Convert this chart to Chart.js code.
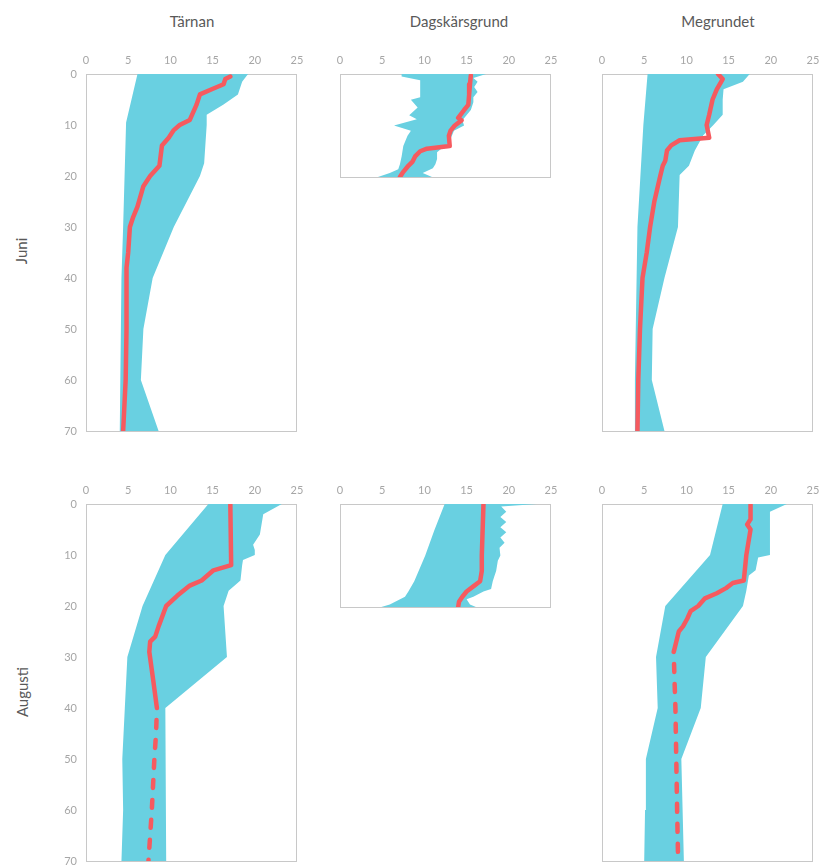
<!DOCTYPE html>
<html lang="sv">
<head>
<meta charset="utf-8">
<title>Temperaturprofiler</title>
<script src="https://cdn.jsdelivr.net/npm/chart.js@4.4.1/dist/chart.umd.min.js"></script>
<style>
  html, body { margin: 0; padding: 0; background: #fff; }
  body { position: relative; width: 822px; height: 865px; overflow: hidden; font-family: Lato, 'Open Sans', sans-serif; }
  canvas { position: absolute; }
  .title { position: absolute; top: 12px; font-size: 15px; color: #595959; transform: translateX(-50%); white-space: nowrap; }
  .rowlab { position: absolute; font-size: 15px; color: #595959; transform: translate(-50%, -50%) rotate(-90deg); white-space: nowrap; }
</style>
</head>
<body>
<div class="title" style="left:192px">Tärnan</div>
<div class="title" style="left:459px">Dagskärsgrund</div>
<div class="title" style="left:718px">Megrundet</div>
<div class="rowlab" style="left:21px; top:251px">Juni</div>
<div class="rowlab" style="left:22px; top:692px">Augusti</div>
<canvas id="c0"></canvas>
<canvas id="c1"></canvas>
<canvas id="c2"></canvas>
<canvas id="c3"></canvas>
<canvas id="c4"></canvas>
<canvas id="c5"></canvas>
<script>
// axis ticks
var tempTicks = [0, 5, 10, 15, 20, 25];
var depthTicks = [0, 10, 20, 30, 40, 50, 60, 70];

// Tärnan, juni
var tarJunMinD = [0, 9.5, 30, 40, 70];
var tarJunMin = [6.1, 4.75, 4.4, 4.2, 4.0];
var tarJunMaxD = [0, 1.5, 4, 6, 8, 10, 17.5, 20, 30, 40, 50, 60, 70];
var tarJunMax = [19.2, 18.5, 18.0, 16.3, 14.3, 14.3, 14.0, 13.5, 10.4, 7.9, 6.8, 6.5, 8.6];
var tarJunMeanD = [0.5, 1, 2, 3, 4, 6, 9, 10, 11, 12.5, 14, 18, 20, 22, 26, 28, 30, 35, 38, 50, 60, 70];
var tarJunMean = [17.1, 16.5, 16.3, 14.9, 13.5, 13.1, 12.3, 11.1, 10.4, 9.8, 9.0, 8.7, 7.6, 6.8, 6.1, 5.6, 5.2, 5.0, 4.8, 4.8, 4.7, 4.4];

// Dagskärsgrund, juni
var dagJunMinD = [0, 0.5, 1.2, 4.5, 5, 6.5, 8, 8.8, 10, 11, 12, 14, 16, 17.5, 18.5, 19.2, 20];
var dagJunMin = [7.3, 7.3, 9.5, 9.5, 8.4, 9.2, 8.2, 9.1, 6.4, 8.4, 8.0, 7.5, 7.3, 7.1, 6.9, 5.9, 4.5];
var dagJunMaxD = [0, 0.8, 1.5, 2.5, 3.5, 4.5, 5.5, 6.5, 7, 9, 10, 11, 13, 14, 14.5, 15.2, 16.5, 17.5, 18.3, 19.2, 20];
var dagJunMax = [17.3, 15.8, 16.3, 15.9, 16.3, 15.8, 15.8, 15.6, 15.5, 14.5, 14.7, 13.5, 13.0, 13.0, 12.0, 11.5, 11.5, 11.3, 11.0, 9.8, 10.9];
var dagJunMeanD = [0.3, 2, 4, 6, 7, 8.5, 9, 10, 11, 12, 14, 14.5, 15, 16, 17, 18, 19, 20];
var dagJunMean = [15.5, 15.4, 15.3, 15.2, 14.7, 14.0, 14.4, 13.6, 13.1, 12.9, 13.0, 10.3, 9.5, 8.9, 8.6, 8.0, 7.5, 7.1];

// Megrundet, juni
var megJunMinD = [0, 10, 30, 40, 50, 60, 70];
var megJunMin = [5.4, 4.9, 4.2, 4.1, 4.0, 3.9, 3.8];
var megJunMaxD = [0, 1.5, 3, 5, 8, 10, 12, 15, 18, 19.8, 30, 40, 50, 60, 70];
var megJunMax = [17.5, 16.7, 14.4, 14.3, 14.3, 13.2, 12.0, 11.0, 10.3, 9.2, 9.0, 7.4, 6.0, 5.9, 7.4];
var megJunMeanD = [0, 1, 3, 5, 8, 10, 12.5, 13, 14, 15, 17, 18, 20, 25, 30, 35, 40, 50, 60, 70];
var megJunMean = [13.75, 14.3, 13.6, 13.1, 12.7, 12.4, 12.7, 9.2, 8.2, 7.7, 7.5, 7.2, 6.9, 6.2, 5.7, 5.3, 4.8, 4.5, 4.3, 4.2];

// Tärnan, augusti
var tarAugMinD = [0, 10, 20, 30, 40, 50, 60, 70];
var tarAugMin = [14.5, 9.4, 6.7, 4.9, 4.6, 4.3, 4.4, 4.2];
var tarAugMaxD = [0, 2, 6, 8, 9, 10, 11, 12, 15, 17, 20, 30, 40, 70];
var tarAugMax = [23.2, 21.0, 20.6, 19.8, 20.0, 20.0, 18.6, 18.5, 18.3, 16.9, 16.3, 16.7, 9.4, 9.5];
var tarAugMeanD = [0, 12, 13, 15, 16, 18, 20, 24, 26, 27, 29, 35, 40, 45, 50, 60, 70];
var tarAugMean = [17.1, 17.2, 15.1, 13.7, 12.3, 10.8, 9.5, 8.6, 8.2, 7.6, 7.5, 8.0, 8.4, 8.3, 8.1, 7.8, 7.4];

// Dagskärsgrund, augusti
var dagAugMinD = [0, 5, 10, 15, 17, 18, 19.5, 20];
var dagAugMin = [12.4, 11.2, 10.1, 8.8, 8.1, 7.7, 5.9, 4.9];
var dagAugMaxD = [0, 0.5, 1.5, 2.5, 3.5, 4.5, 5.5, 6.5, 7.5, 8.5, 10, 11, 13, 14, 15, 16.5, 17, 18, 18.5, 19.5, 20];
var dagAugMax = [23.3, 19.1, 19.7, 19.0, 19.7, 19.0, 19.7, 19.0, 19.5, 18.9, 19.0, 18.7, 18.5, 18.3, 18.1, 17.9, 17.0, 15.8, 15.0, 15.4, 16.1];
var dagAugMeanD = [0, 10, 13, 15, 16, 17, 18, 19, 20];
var dagAugMean = [17.0, 16.8, 16.8, 16.6, 15.8, 15.0, 14.5, 14.1, 14.0];

// Megrundet, augusti
var megAugMinD = [0, 10, 20, 30, 40, 50, 60, 70];
var megAugMin = [14.3, 12.8, 7.5, 6.4, 6.6, 5.2, 5.1, 5.0];
var megAugMaxD = [0, 1.5, 10, 10.5, 13, 14, 17, 20, 30, 40, 50, 70];
var megAugMax = [21.9, 19.9, 19.9, 18.5, 18.2, 17.4, 17.1, 16.7, 12.3, 11.7, 9.4, 9.7];
var megAugMeanD = [0, 3, 4, 5, 10, 15, 15.5, 16.5, 17.5, 18.5, 20, 21, 22.5, 24, 25, 27, 29, 35, 40, 50, 60, 68.5];
var megAugMean = [17.6, 17.6, 17.2, 17.6, 17.1, 16.8, 15.5, 14.7, 13.6, 12.2, 11.4, 10.5, 10.1, 9.6, 9.1, 8.8, 8.5, 8.6, 8.7, 8.8, 8.9, 9.0];

// depth below which the mean is drawn dashed (null = never)
var tarAugDashFrom = 40;
var megAugDashFrom = 29;

var BAND = '#69d0e1';
var MEAN = '#f65a5f';
var TICK = '#a6a6a6';
var FONT = "Lato, 'Open Sans', sans-serif";

function pts(depths, vals) {
    return depths.map(function(d, i) { return { x: vals[i], y: d }; });
}

var boxPlugin = {
    id: 'box',
    beforeDatasetsDraw: function(chart) {
        var a = chart.chartArea, ctx = chart.ctx;
        ctx.save();
        ctx.strokeStyle = '#c8c8c8';
        ctx.lineWidth = 1;
        ctx.strokeRect(Math.round(a.left) + 0.5, Math.round(a.top) + 0.5,
            Math.round(a.right - a.left) - 1, Math.round(a.bottom - a.top));
        ctx.restore();
    }
};

function makePanel(id, plotLeft, plotTop, plotH, maxDepth, showY, minD, min, maxD, max, meanD, mean, dashFrom) {
    var yW = showY ? 40 : 0;
    var padL = showY ? 0 : 24;
    var padR = 24, padB = 24, xH = 30;
    var canvas = document.getElementById(id);
    canvas.width = yW + padL + 211 + padR;
    canvas.height = xH + plotH + padB;
    canvas.style.left = (plotLeft - yW - padL) + 'px';
    canvas.style.top = (plotTop - xH) + 'px';

    // split the mean profile into a measured (solid) and an extrapolated (dashed) part
    var meanPts = pts(meanD, mean);
    var solidPts = meanPts.filter(function(p) { return dashFrom === null || p.y <= dashFrom; });
    var dashPts = dashFrom === null ? [] : meanPts.filter(function(p) { return p.y >= dashFrom; });

    new Chart(canvas, {
        type: 'line',
        data: {
            datasets: [
                { data: solidPts, borderColor: MEAN, borderWidth: 4.5, fill: false, pointRadius: 0,
                  borderCapStyle: 'round', borderJoinStyle: 'round' },
                { data: dashPts, borderColor: MEAN, borderWidth: 4.5, fill: false, pointRadius: 0,
                  borderCapStyle: 'round', borderJoinStyle: 'round', borderDash: [8, 12], borderDashOffset: 8 },
                { data: pts(minD, min), borderColor: 'rgba(0,0,0,0)', borderWidth: 0, pointRadius: 0, fill: false },
                { data: pts(maxD, max), borderColor: 'rgba(0,0,0,0)', borderWidth: 0, pointRadius: 0, fill: 2, backgroundColor: BAND }
            ]
        },
        options: {
            responsive: false,
            animation: false,
            indexAxis: 'y',
            layout: { padding: { left: padL, right: padR, top: 0, bottom: padB } },
            plugins: { legend: { display: false }, tooltip: { enabled: false } },
            scales: {
                x: {
                    type: 'linear', position: 'top', min: tempTicks[0], max: tempTicks[tempTicks.length - 1],
                    grid: { display: false, drawTicks: false }, border: { display: false },
                    afterBuildTicks: function(s) { s.ticks = tempTicks.map(function(v) { return { value: v }; }); },
                    ticks: { color: TICK, font: { family: FONT, size: 11 }, padding: 7 },
                    afterFit: function(s) { s.height = xH; }
                },
                y: {
                    type: 'linear', reverse: true, min: 0, max: maxDepth, display: showY,
                    grid: { display: false, drawTicks: false }, border: { display: false },
                    afterBuildTicks: function(s) { s.ticks = depthTicks.filter(function(v) { return v <= maxDepth; }).map(function(v) { return { value: v }; }); },
                    ticks: { color: TICK, font: { family: FONT, size: 11 }, padding: 9 },
                    afterFit: function(s) { s.width = yW; }
                }
            }
        },
        plugins: [boxPlugin]
    });
}

makePanel('c0', 86, 74, 357, 70, true, tarJunMinD, tarJunMin, tarJunMaxD, tarJunMax, tarJunMeanD, tarJunMean, null);
makePanel('c1', 340, 74, 103, 20, false, dagJunMinD, dagJunMin, dagJunMaxD, dagJunMax, dagJunMeanD, dagJunMean, null);
makePanel('c2', 602, 74, 357, 70, false, megJunMinD, megJunMin, megJunMaxD, megJunMax, megJunMeanD, megJunMean, null);
makePanel('c3', 86, 504, 357, 70, true, tarAugMinD, tarAugMin, tarAugMaxD, tarAugMax, tarAugMeanD, tarAugMean, tarAugDashFrom);
makePanel('c4', 340, 504, 103, 20, false, dagAugMinD, dagAugMin, dagAugMaxD, dagAugMax, dagAugMeanD, dagAugMean, null);
makePanel('c5', 602, 504, 357, 70, false, megAugMinD, megAugMin, megAugMaxD, megAugMax, megAugMeanD, megAugMean, megAugDashFrom);
</script>
</body>
</html>
